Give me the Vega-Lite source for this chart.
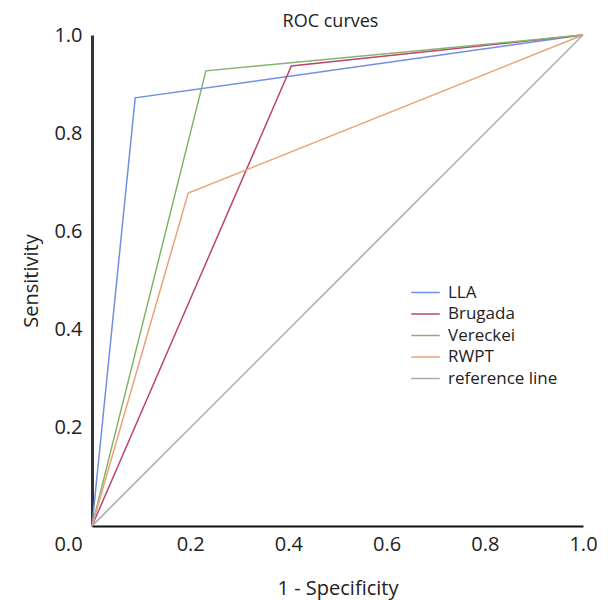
{
  "$schema": "https://vega.github.io/schema/vega-lite/v6.json",
  "autosize": {"type": "none"},
  "padding": {"left": 92, "top": 35, "right": 28, "bottom": 74},
  "width": 491,
  "height": 491,
  "title": {"text": "ROC curves", "font": "Open Sans", "fontSize": 18, "fontWeight": "normal", "color": "#222", "offset": -3, "dx": -7, "baseline": "middle", "dy": 12},
  "config": {
    "view": {"stroke": null},
    "font": "Open Sans"
  },
  "data": {
    "values": [
      {"test": "LLA", "o": 0, "fpr": 0, "tpr": 0},
      {"test": "LLA", "o": 1, "fpr": 0.088, "tpr": 0.872},
      {"test": "LLA", "o": 2, "fpr": 1, "tpr": 1},
      {"test": "Brugada", "o": 0, "fpr": 0, "tpr": 0},
      {"test": "Brugada", "o": 1, "fpr": 0.406, "tpr": 0.937},
      {"test": "Brugada", "o": 2, "fpr": 1, "tpr": 1},
      {"test": "Vereckei", "o": 0, "fpr": 0, "tpr": 0},
      {"test": "Vereckei", "o": 1, "fpr": 0.232, "tpr": 0.927},
      {"test": "Vereckei", "o": 2, "fpr": 1, "tpr": 1},
      {"test": "RWPT", "o": 0, "fpr": 0, "tpr": 0},
      {"test": "RWPT", "o": 1, "fpr": 0.196, "tpr": 0.678},
      {"test": "RWPT", "o": 2, "fpr": 1, "tpr": 1},
      {"test": "reference line", "o": 0, "fpr": 0, "tpr": 0},
      {"test": "reference line", "o": 1, "fpr": 1, "tpr": 1}
    ]
  },
  "mark": {"type": "line", "strokeWidth": 1.5, "clip": false},
  "encoding": {
    "x": {
      "field": "fpr", "type": "quantitative",
      "scale": {"domain": [0, 1], "nice": false, "zero": false},
      "title": "1 - Specificity",
      "axis": {
        "values": [0, 0.2, 0.4, 0.6, 0.8, 1.0],
        "format": ".1f",
        "grid": false, "ticks": false, "labelFlush": false,
        "domainColor": "#111", "domainWidth": 2,
        "labelFont": "Open Sans", "labelFontSize": 20, "labelColor": "#222",
        "labelPadding": 8,
        "labelOffset": {"condition": {"test": "datum.value == 0", "value": -24}, "value": 0},
        "titleFont": "Open Sans", "titleFontSize": 20, "titleFontWeight": "normal", "titleColor": "#222",
        "titlePadding": 24
      }
    },
    "y": {
      "field": "tpr", "type": "quantitative",
      "scale": {"domain": [0, 1], "nice": false, "zero": false},
      "title": "Sensitivity",
      "axis": {
        "values": [0, 0.2, 0.4, 0.6, 0.8, 1.0],
        "labelExpr": "datum.value == 0 ? '' : format(datum.value, '.1f')",
        "grid": false, "ticks": false, "labelFlush": false,
        "domainColor": "#333", "domainWidth": 3,
        "labelFont": "Open Sans", "labelFontSize": 20, "labelColor": "#222",
        "labelPadding": 10,
        "titleFont": "Open Sans", "titleFontSize": 20, "titleFontWeight": "normal", "titleColor": "#222",
        "titlePadding": 12
      }
    },
    "color": {
      "field": "test", "type": "nominal",
      "scale": {
        "domain": ["LLA", "Brugada", "Vereckei", "RWPT", "reference line"],
        "range": ["#6f8fe3", "#bd4570", "#86b46c", "#e9a27a", "#aaaaaa"]
      },
      "legend": {
        "orient": "none", "legendX": 323, "legendY": 247,
        "title": null,
        "symbolType": "M-1.5,0H1.5", "symbolSize": 361, "symbolStrokeWidth": 1.5,
        "labelFont": "Open Sans", "labelFontSize": 17, "labelColor": "#222",
        "labelOffset": 12, "rowPadding": 2.5
      }
    },
    "order": {"field": "o", "type": "quantitative"}
  }
}
